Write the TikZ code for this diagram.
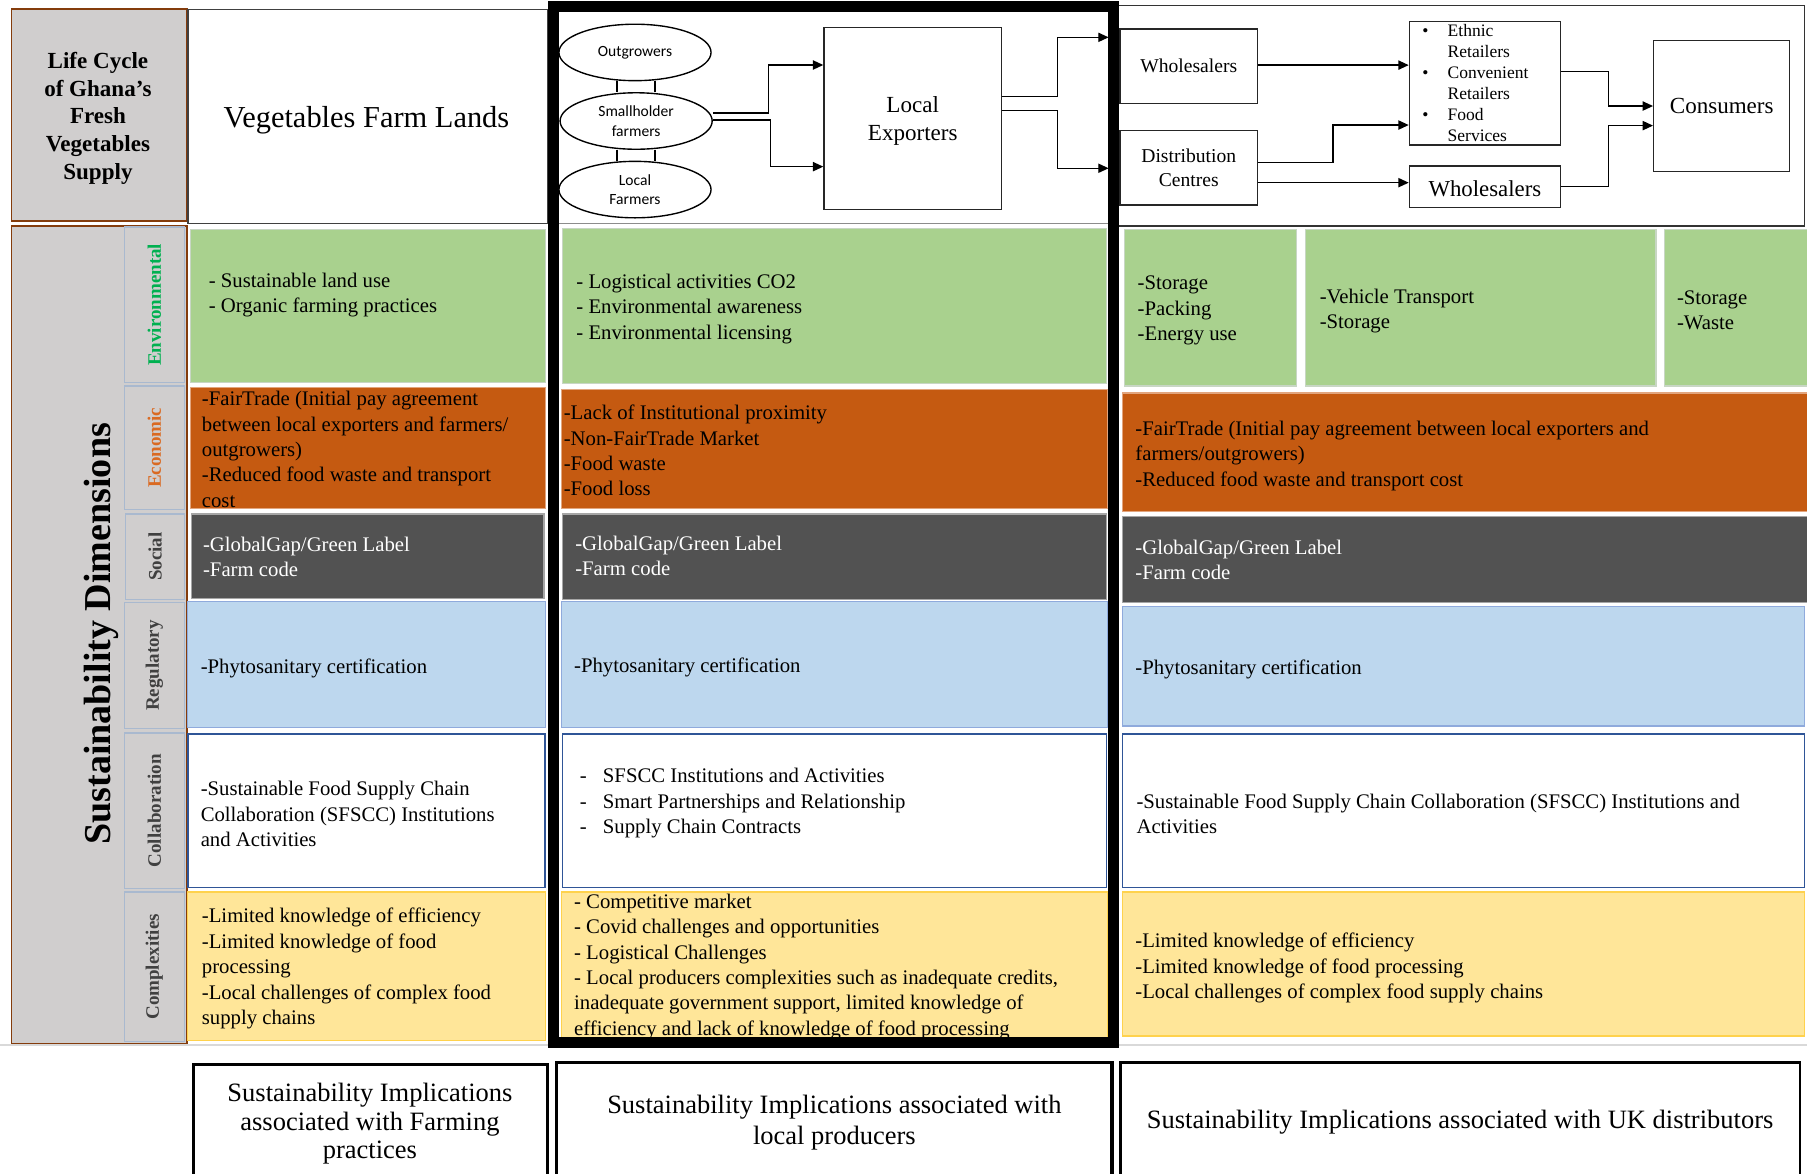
\documentclass[tikz,border=0pt]{standalone}
\usepackage{fontspec}
\setmainfont{Liberation Serif}
\newfontfamily\calibfont{Carlito}
\usetikzlibrary{arrows.meta,fit,shapes.geometric}

\definecolor{envfill}{HTML}{A9D18E}
\definecolor{envline}{HTML}{C8D6C4}
\definecolor{ecofill}{HTML}{C55A11}
\definecolor{ecoline}{HTML}{E2A57E}
\definecolor{socfill}{HTML}{525252}
\definecolor{socline}{HTML}{A6A6A6}
\definecolor{regfill}{HTML}{BDD7EE}
\definecolor{regline}{HTML}{8FAADC}
\definecolor{colline}{HTML}{2F5597}
\definecolor{cmpfill}{HTML}{FFE699}
\definecolor{cmpline}{HTML}{FFD24D}
\definecolor{sidefill}{HTML}{D0CECE}
\definecolor{sideline}{HTML}{843C0C}
\definecolor{tabline}{HTML}{A9B9CF}
\definecolor{envtext}{HTML}{00B050}
\definecolor{ecotext}{HTML}{DA6A22}
\definecolor{dimtext}{HTML}{404040}

\begin{document}
\begin{tikzpicture}[x=1pt,y=-1pt,
  cell/.style={inner sep=0pt,line width=1pt},
  envcell/.style={cell,fill=envfill,draw=envline},
  ecocell/.style={cell,fill=ecofill,draw=ecoline},
  soccell/.style={cell,fill=socfill,draw=socline},
  regcell/.style={cell,fill=regfill,draw=regline},
  colcell/.style={cell,fill=white,draw=colline,line width=1.2pt},
  cmpcell/.style={cell,fill=cmpfill,draw=cmpline},
  sidebox/.style={inner sep=0pt,fill=sidefill,draw=sideline,line width=1.4pt},
  tabbox/.style={inner sep=0pt,fill=sidefill,draw=tabline,line width=1pt},
  tablabel/.style={rotate=90,inner sep=0pt,font=\bfseries\fontsize{16.5}{20}\selectfont},
  body/.style={inner sep=0pt,anchor=west,align=left,font=\fontsize{18}{22}\selectfont},
  flowbox/.style={draw=black!85,line width=1.2pt,inner sep=0pt,align=center},
  ell/.style={ellipse,draw=black,line width=1.2pt,minimum width=132pt,minimum height=49pt,
    inner sep=0pt,align=center,font=\calibfont\fontsize{13.5}{17}\selectfont},
  arr/.style={draw=black,line width=1.2pt,-{Triangle[length=9pt,width=8pt]}},
  link/.style={draw=black,line width=1.7pt},
  capbox/.style={draw=black,line width=2.4pt,inner sep=0pt},
  captxt/.style={inner sep=0pt,align=center,font=\fontsize{23}{25}\selectfont}
]
\useasboundingbox (0,0) rectangle (1568,1018);
\clip (0,0) rectangle (1568,1018);
\fill[white] (0,0) rectangle (1568,1018);

% ---------- left side bar ----------
\node[sidebox,fit={(10,8) (162,192)}] (lcbox) {};
\node[inner sep=0pt,align=center,font=\bfseries\fontsize{20}{24}\selectfont] (lctxt) at (85,102.5)
  {Life Cycle\\of Ghana’s\\Fresh\\Vegetables\\Supply};
\node[sidebox,fit={(10,196) (162,906)}] (sdbox) {};
\node[rotate=90,inner sep=0pt,font=\bfseries\fontsize{33}{36}\selectfont] (sdtxt) at (88,550) {Sustainability Dimensions};

\node[tabbox,fit={(108,197) (160,332)}] (tenv) {};
\node[tablabel,text=envtext] (tenvt) at (tenv) {Environmental};
\node[tabbox,fit={(108,335) (160,442)}] (teco) {};
\node[tablabel,text=ecotext] (tecot) at (teco) {Economic};
\node[tabbox,fit={(109,446) (160,520)}] (tsoc) {};
\node[tablabel,text=dimtext] (tsoct) at (tsoc) {Social};
\node[tabbox,fit={(108,523) (160,632)}] (treg) {};
\node[tablabel,text=dimtext] (tregt) at (treg) {Regulatory};
\node[tabbox,fit={(108,636) (160,771)}] (tcol) {};
\node[tablabel,text=dimtext] (tcolt) at (tcol) {Collaboration};
\node[tabbox,fit={(108,774) (160,904)}] (tcmp) {};
\node[tablabel,text=dimtext] (tcmpt) at (tcmp) {Complexities};

% ---------- header row ----------
\node[draw=black!75,line width=1.2pt,inner sep=0pt,fit={(163,8) (475,194)}] (farm) {};
\node[inner sep=0pt,font=\fontsize{26.4}{30}\selectfont] (farmt) at (318,104) {Vegetables Farm Lands};

\draw[black!45,line width=1pt] (485,194) -- (962,194);
\node[draw=black!80,line width=1.1pt,inner sep=0pt,fit={(970,5) (1566,196)}] (ukhead) {};

% producers
\node[ell] (og) at (551,45.5) {Outgrowers};
\node[ell] (sh) at (552,105) {Smallholder\\farmers};
\node[ell] (lf) at (551,164.5) {Local\\Farmers};
\draw[link] ([xshift=-16pt]og.south) -- ([xshift=-16pt]og.south |- sh.north);
\draw[link] ([xshift=17pt]og.south) -- ([xshift=17pt]og.south |- sh.north);
\draw[link] ([xshift=-17pt]sh.south) -- ([xshift=-17pt]sh.south |- lf.north);
\draw[link] ([xshift=16pt]sh.south) -- ([xshift=16pt]sh.south |- lf.north);

\node[flowbox,minimum width=154pt,minimum height=158pt,font=\fontsize{20}{24}\selectfont] (le) at (792,103) {};
\node[inner sep=0pt,align=center,font=\fontsize{20}{24}\selectfont] (let) at (792,105) {Local\\Exporters};
\draw[arr] ([yshift=7pt]sh.east) -- ++(48,0) |- ([yshift=46.6pt]le.west);
\draw[arr] ([yshift=1pt]sh.east) -- ++(50,0) |- ([yshift=-41.6pt]le.west);

\coordinate (inW) at (962,32.4);
\coordinate (inD) at (962,146);
\draw[arr] ([yshift=19pt]le.east) -- ++(48,0) |- (inW);
\draw[arr] ([yshift=7pt]le.east) -- ++(48,0) |- (inD);

% UK distribution
\node[flowbox,minimum width=119pt,minimum height=65pt,font=\fontsize{17}{21}\selectfont] (ws) at (1031.5,57.5) {Wholesalers};
\node[flowbox,minimum width=119pt,minimum height=65pt,font=\fontsize{17}{21}\selectfont] (dc) at (1031.5,145.5) {Distribution\\Centres};
\node[flowbox,minimum width=131pt,minimum height=107pt] (rt) at (1288.5,72.3) {};
\node[inner sep=0pt,anchor=west,align=left,font=\fontsize{15.2}{18.2}\selectfont] (rtt) at (1234,71.8)
  {\makebox[22pt][l]{\textbullet}Ethnic\\\hspace*{22pt}Retailers\\\makebox[22pt][l]{\textbullet}Convenient\\\hspace*{22pt}Retailers\\\makebox[22pt][l]{\textbullet}Food\\\hspace*{22pt}Services};
\node[flowbox,minimum width=131pt,minimum height=36pt] (ws2) at (1288.5,162) {};
\node[inner sep=0pt,font=\fontsize{19.8}{23}\selectfont] (ws2t) at (1288.5,164) {Wholesalers};
\node[flowbox,minimum width=118pt,minimum height=114pt,font=\fontsize{20}{24}\selectfont] (cs) at (1494,92) {Consumers};

\draw[arr] ([yshift=1pt]ws.east) -- ([yshift=1pt]ws.east -| rt.west);
\draw[arr] ([yshift=4.5pt]dc.east) -- ++(65,0) |- ([yshift=-36.2pt]rt.west);
\draw[arr] ([yshift=-13pt]dc.east) -- ([yshift=-13pt]dc.east -| ws2.west);
\draw[arr] ([yshift=10.3pt]rt.east) -- ++(41,0) |- (cs.west);
\draw[arr] (ws2.east) -- ++(41,0) |- ([yshift=-17pt]cs.west);

% ---------- column 1: farming practices ----------
\node[envcell,fit={(165,199) (473,332)}] (f1) {};
\node[body] (f1t) at (181,256) {- Sustainable land use\\- Organic farming practices};
\node[ecocell,fit={(165,336) (473,441)}] (f2) {};
\node[body] (f2t) at (175,390) {-FairTrade (Initial pay agreement\\between local exporters and farmers/\\outgrowers)\\-Reduced food waste and transport\\cost};
\node[soccell,fit={(166,446) (472,519)}] (f3) {};
\node[body,text=white] (f3t) at (176,483.5) {-GlobalGap/Green Label\\-Farm code};
\node[regcell,fit={(163,522) (473,631)}] (f4) {};
\node[body] (f4t) at (174,580) {-Phytosanitary certification};
\node[colcell,fit={(163,637) (473,770)}] (f5) {};
\node[body] (f5t) at (174,706.5) {-Sustainable Food Supply Chain\\Collaboration (SFSCC) Institutions\\and Activities};
\node[cmpcell,fit={(163,774) (473,903)}] (f6) {};
\node[body] (f6t) at (175,840.5) {-Limited knowledge of efficiency\\-Limited knowledge of food\\processing\\-Local challenges of complex food\\supply chains};

% ---------- column 2: local producers ----------
\node[envcell,fit={(488,198) (960,333)}] (p1) {};
\node[body] (p1t) at (500,268) {- Logistical activities CO2\\- Environmental awareness\\- Environmental licensing};
\node[ecocell,fit={(487,338) (961,441)}] (p2) {};
\node[body] (p2t) at (489,391) {-Lack of Institutional proximity\\-Non-FairTrade Market\\-Food waste\\-Food loss};
\node[soccell,fit={(488,446) (960,520)}] (p3) {};
\node[body,text=white] (p3t) at (499,482.5) {-GlobalGap/Green Label\\-Farm code};
\node[regcell,fit={(487,522) (961,631)}] (p4) {};
\node[body] (p4t) at (498,579) {-Phytosanitary certification};
\node[colcell,fit={(488,637) (960,770)}] (p5) {};
\node[body] (p5t) at (499,697) {\makebox[24pt][l]{\hspace*{4pt}-}SFSCC Institutions and Activities\\\makebox[24pt][l]{\hspace*{4pt}-}Smart Partnerships and Relationship\\\makebox[24pt][l]{\hspace*{4pt}-}Supply Chain Contracts};
\node[cmpcell,fit={(487,774) (961,900)}] (p6) {};
\node[body] (p6t) at (498,839) {- Competitive market\\- Covid challenges and opportunities\\- Logistical Challenges\\- Local producers complexities such as inadequate credits,\\inadequate government support, limited knowledge of\\efficiency and lack of knowledge of food processing};

% ---------- column 3: UK distributors ----------
\node[envcell,fit={(976,199) (1125,335)}] (u1a) {};
\node[body] (u1at) at (987,269.5) {-Storage\\-Packing\\-Energy use};
\node[envcell,fit={(1133,199) (1437,335)}] (u1b) {};
\node[body] (u1bt) at (1145,270) {-Vehicle Transport\\-Storage};
\node[envcell,fit={(1444,199) (1570,335)}] (u1c) {};
\node[body] (u1ct) at (1455,269) {-Storage\\-Waste};
\node[ecocell,fit={(974,341) (1570,444)}] (u2) {};
\node[body] (u2t) at (985,395.5) {-FairTrade (Initial pay agreement between local exporters and\\farmers/outgrowers)\\-Reduced food waste and transport cost};
\node[soccell,fit={(974,448) (1570,523)}] (u3) {};
\node[body,text=white] (u3t) at (985,486) {-GlobalGap/Green Label\\-Farm code};
\node[regcell,fit={(974,526) (1566,630)}] (u4) {};
\node[body] (u4t) at (985,581) {-Phytosanitary certification};
\node[colcell,fit={(974,637) (1566,770)}] (u5) {};
\node[body] (u5t) at (986,706) {-Sustainable Food Supply Chain Collaboration (SFSCC) Institutions and\\Activities};
\node[cmpcell,fit={(974,774) (1566,899)}] (u6) {};
\node[body] (u6t) at (985,840) {-Limited knowledge of efficiency\\-Limited knowledge of food processing\\-Local challenges of complex food supply chains};

% table base line
\draw[black!15,line width=2pt] (0,907) -- (1568,907);

% frame around the local producers column
\node[draw=black,line width=9.5pt,inner sep=0pt,fit={(480,6) (966,905)}] (frame) {};

% ---------- captions ----------
\node[capbox,fit={(168,924) (475,1040)}] (cap1) {};
\node[captxt] (cap1t) at (321,975) {Sustainability Implications\\associated with Farming\\practices};
\node[capbox,line width=3pt,fit={(483,922) (965,1040)}] (cap2) {};
\node[captxt,font=\fontsize{23}{27}\selectfont] (cap2t) at (724,974.5) {Sustainability Implications associated with\\local producers};
\node[capbox,fit={(972,922) (1562,1040)}] (cap3) {};
\node[captxt] (cap3t) at (1267,974) {Sustainability Implications associated with UK distributors};
\end{tikzpicture}
\end{document}
